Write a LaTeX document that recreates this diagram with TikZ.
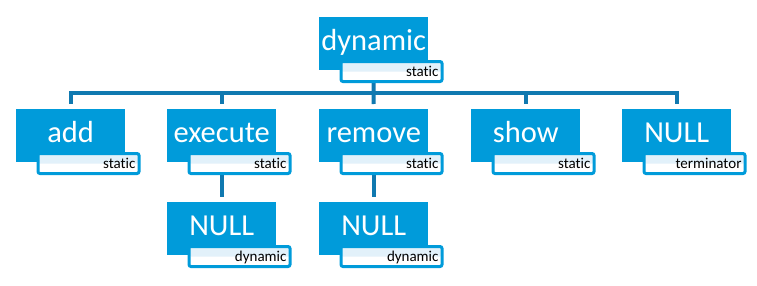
\documentclass[tikz,border=0pt]{standalone}
\usepackage{fontspec}
\setmainfont{Carlito}[Ligatures={NoCommon}]
\definecolor{boxblue}{RGB}{0,155,218}
\definecolor{lineblue}{RGB}{16,121,176}
\definecolor{subtop}{RGB}{226,241,250}
\pgfdeclarelayer{bg}
\pgfsetlayers{bg,main}
\newcommand\entrybox[5]{%
  \node[mainbox] (#1) at (#2,#3) {#4};
  \node[subbox] (#1s) at (#2+20.5,#3+43) {#5};
}
\begin{document}
\begin{tikzpicture}[x=1pt,y=-1pt,
  mainbox/.style={fill=boxblue,text=white,inner sep=0pt,minimum width=109pt,
    minimum height=53pt,text height=33pt,text depth=20pt,
    font=\fontsize{30.5}{30}\selectfont,anchor=north west},
  subbox/.style={draw=boxblue,line width=3pt,rounded corners=2pt,fill=white,
    path picture={\fill[subtop] (path picture bounding box.north west) rectangle (path picture bounding box.east);},
    inner xsep=3.5pt,inner ysep=0pt,text width=94pt,align=right,
    text height=15pt,text depth=5pt,minimum height=20pt,
    font=\fontsize{15}{15}\selectfont,anchor=north west},
  conn/.style={draw=lineblue,line width=4pt}]
\useasboundingbox (0,0) rectangle (757,285);
\entrybox{dyn}{319}{17}{dynamic}{static}
\entrybox{add}{16}{109}{add}{static}
\entrybox{exe}{167}{109}{execute}{static}
\entrybox{rem}{319}{109}{remove}{static}
\entrybox{show}{471}{109}{show}{static}
\entrybox{nul}{622}{109}{NULL}{terminator}
\entrybox{nulA}{167}{202}{NULL}{dynamic}
\entrybox{nulB}{319}{202}{NULL}{dynamic}
\begin{pgfonlayer}{bg}
  \coordinate (bus) at (373.5,93);
  \draw[conn] (dyn.south) -- (bus);
  \draw[conn,shorten >=5pt] (bus) -| (add.north);
  \draw[conn,shorten >=5pt] (bus) -| (exe.north);
  \draw[conn,shorten >=5pt] (bus) -- (rem.north);
  \draw[conn,shorten >=5pt] (bus) -| (show.north);
  \draw[conn,shorten >=5pt] (bus) -| (nul.north);
  \draw[conn,shorten >=5pt] (exe.south) -- (nulA.north);
  \draw[conn,shorten >=5pt] (rem.south) -- (nulB.north);
\end{pgfonlayer}
\end{tikzpicture}
\end{document}
